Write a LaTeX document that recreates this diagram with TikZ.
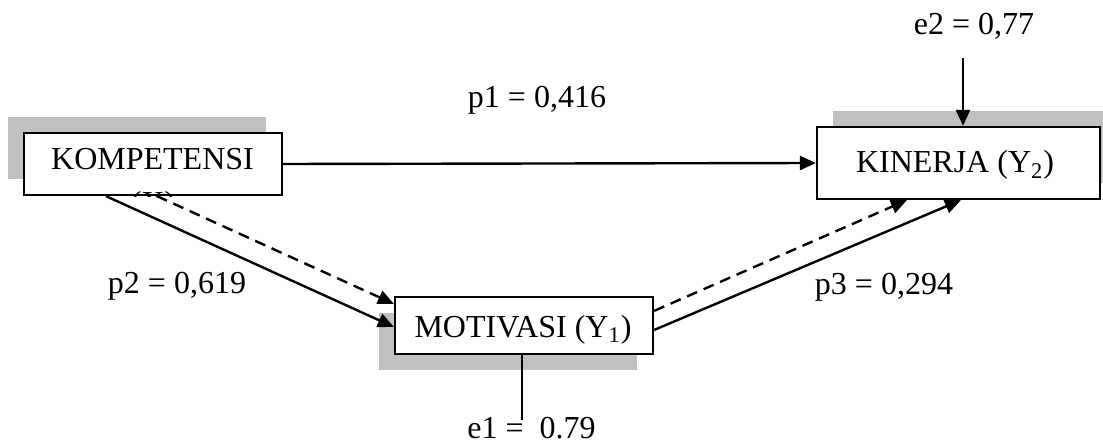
\documentclass[tikz,border=0pt]{standalone}
\usepackage{fontspec}
\setmainfont{Liberation Serif}
\usetikzlibrary{arrows.meta}
\definecolor{shadowgray}{HTML}{C0C0C0}
\begin{document}
\begin{tikzpicture}[x=0.5pt,y=-0.5pt,
  box/.style={draw=black,line width=1.1pt,fill=white,inner sep=0pt},
  lbl/.style={inner sep=0pt,font=\fontsize{16}{18}\selectfont},
  conn/.style={line width=1.2pt,-{Triangle[length=8pt,width=7pt]}},
  dashconn/.style={conn,dash pattern=on 5.5pt off 3.5pt}]
\useasboundingbox (0,0) rectangle (1103,443);
% shadows
\fill[shadowgray] (8,117) rectangle (266,179);
\fill[shadowgray] (833,111) rectangle (1103,183);
\fill[shadowgray] (379,313) rectangle (637,370);
% boxes
\node[box,minimum width=129pt,minimum height=31pt] (komp) at (153,164) {};
\node[box,minimum width=141.5pt,minimum height=36pt] (kin) at (958.5,163) {};
\node[box,minimum width=129pt,minimum height=28.5pt] (mot) at (524,325.5) {};
% box texts
\node[lbl,anchor=base] (kompt) at (152.5,170) {KOMPETENSI};
\begin{scope}
  \clip (komp.south west) rectangle (komp.north east);
  \node[lbl,anchor=base] (kompx) at (153,214) {(X)};
\end{scope}
\node[lbl,anchor=base] (kint) at (955,173) {KINERJA (Y\textsubscript{2})};
\node[lbl,anchor=base] (mott) at (523,337) {MOTIVASI (Y\textsubscript{1})};
% connectors
\draw[conn] (komp.east) -- (kin.west);
\draw[conn] ([xshift=41.5pt]komp.south west) -- ([yshift=-0.75pt]mot.west);
\draw[dashconn] ([xshift=67pt]komp.south west) -- ([yshift=-4pt]mot.north west);
\draw[dashconn] ([yshift=-7.5pt]mot.north east) -- ([xshift=45.5pt]kin.south west);
\draw[conn] ([yshift=-2.25pt]mot.east) -- ([xshift=72.5pt]kin.south west);
\coordinate (e2top) at (963,58);
\draw[conn] (e2top) -- ([xshift=2.25pt]kin.north);
\coordinate (e1bot) at (522,420);
\draw[line width=1.2pt] ([xshift=-1pt]mot.south) -- (e1bot);
% labels
\node[lbl,anchor=base] (p1) at (537,108) {p1 = 0,416};
\node[lbl,anchor=base] (p2) at (177,293) {p2 = 0,619};
\node[lbl,anchor=base] (p3) at (884,294) {p3 = 0,294};
\node[lbl,anchor=base] (e2) at (974,35) {e2 = 0,77};
\node[lbl,anchor=base west] (e1) at (467,438) {e1 =\hspace{0.5em}0.79};
\end{tikzpicture}
\end{document}
